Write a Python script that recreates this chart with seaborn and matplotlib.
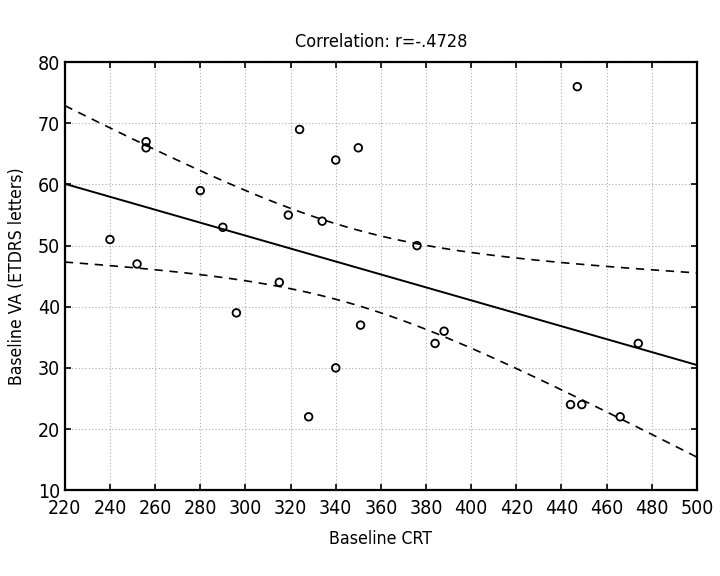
import numpy as np
import pandas as pd
import seaborn as sns
from matplotlib import pyplot as plt

# data
crt = [240, 252, 256, 256, 280, 290, 296, 315, 319, 324, 328, 334, 340, 340,
       350, 351, 376, 384, 388, 444, 447, 449, 466, 474]
va = [51, 47, 67, 66, 59, 53, 39, 44, 55, 69, 22, 54, 64, 30,
      66, 37, 50, 34, 36, 24, 76, 24, 22, 34]
x_ticks = list(range(220, 501, 20))
y_ticks = list(range(10, 81, 10))
title = "Correlation: r=-.4728"

sns.set_theme(style="ticks")
plt.rcParams['font.family'] = ['DejaVu Sans']
plt.rcParams['font.stretch'] = 'condensed'
plt.rcParams['text.color'] = 'black'
plt.rcParams['axes.labelcolor'] = 'black'

df = pd.DataFrame({"crt": crt, "va": va})

fig = plt.figure(figsize=(7.2, 5.76), dpi=100)
ax = fig.add_axes([0.090, 0.149, 0.878, 0.743])

# regression line + 95% confidence band (dashed)
x = np.array(crt, dtype=float)
y = np.array(va, dtype=float)
n = len(x)
slope, icpt = np.polyfit(x, y, 1)
xs = np.linspace(220, 500, 100)
fit = icpt + slope * xs
resid = y - (icpt + slope * x)
s = np.sqrt(np.sum(resid ** 2) / (n - 2))
t = 2.0
half = t * s * np.sqrt(1 / n + (xs - x.mean()) ** 2 / np.sum((x - x.mean()) ** 2))
band = pd.DataFrame({"x": xs, "fit": fit, "lo": fit - half, "hi": fit + half})

sns.lineplot(data=band, x="x", y="fit", ax=ax, color="black", lw=1.4)
sns.lineplot(data=band, x="x", y="lo", ax=ax, color="black", lw=1.2,
             linestyle=(0, (5, 4)))
sns.lineplot(data=band, x="x", y="hi", ax=ax, color="black", lw=1.2,
             linestyle=(0, (5, 4)))
sns.scatterplot(data=df, x="crt", y="va", ax=ax, marker="o", s=30,
                facecolor="none", edgecolor="black", linewidth=1.3, zorder=3)

ax.set_xlim(220, 500)
ax.set_ylim(10, 80)
ax.set_xticks(x_ticks)
ax.set_yticks(y_ticks)
ax.grid(True, color="#aaaaaa", linestyle=(0, (1, 2)), linewidth=0.8)
ax.tick_params(direction="in", top=True, right=True, length=4, width=1.2,
               labelsize=14, colors="black")
ax.tick_params(axis="x", pad=6)
for sp in ax.spines.values():
    sp.set_linewidth(1.6)
    sp.set_color("black")
ax.set_xlabel("Baseline CRT", fontsize=12.7, labelpad=9)
ax.set_ylabel("Baseline VA (ETDRS letters)", fontsize=12.6, labelpad=8)
ax.set_title(title, fontsize=13, pad=11)

fig.savefig("out.png", dpi=100)
